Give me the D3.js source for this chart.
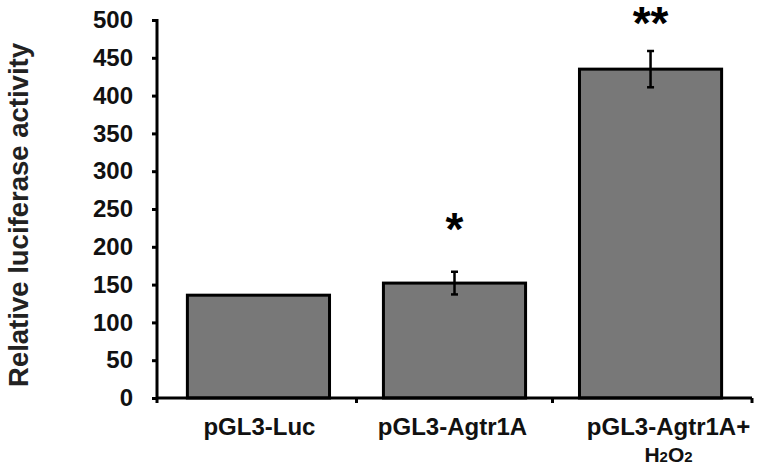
<!DOCTYPE html>
<html>
<head>
<meta charset="UTF-8">
<title>Relative luciferase activity</title>
<script src="https://cdn.jsdelivr.net/npm/d3@7"></script>
<style type="text/css">
	body { margin:0; background:white; }
	text { font-family: "Liberation Sans", Arial, sans-serif; }
</style>
</head>
<body>
<script type="text/javascript">

var categories = ['pGL3-Luc', 'pGL3-Agtr1A', 'pGL3-Agtr1A+'];
var values = [136, 152, 435];
var errors = [0, 15, 24];
var stars = ['', '*', '**'];
var starLevels = [0, 236, 508];
var yTicks = [0, 50, 100, 150, 200, 250, 300, 350, 400, 450, 500];

var large = 770, haut = 468;
var marg = {top: 20, right: 18, bottom: 70, left: 157};

var svg = d3.select('body').append('svg')
	.attr('width', large)
	.attr('height', haut);

var x = d3.scaleBand()
	.domain(categories)
	.range([marg.left, large - marg.right])
	.paddingInner(0.275)
	.paddingOuter(0.155);

var y = d3.scaleLinear()
	.domain([0, 500])
	.range([haut - marg.bottom, marg.top]);

// barres
svg.selectAll('.bar')
	.data(values).enter().append('rect')
	.attr('class', 'bar')
	.attr('x', function(d, i){ return x(categories[i]); })
	.attr('y', function(d){ return y(d); })
	.attr('width', x.bandwidth())
	.attr('height', function(d){ return y(0) - y(d); })
	.attr('fill', '#787878')
	.attr('stroke', 'black')
	.attr('stroke-width', 3);

// barres d'erreur
values.forEach(function(v, i){
	if (!errors[i]) return;
	var cx = x(categories[i]) + x.bandwidth() / 2;
	var g = svg.append('g').attr('stroke', 'black').attr('stroke-width', 2.5);
	g.append('line').attr('x1', cx).attr('x2', cx)
		.attr('y1', y(v - errors[i])).attr('y2', y(v + errors[i]));
	[v - errors[i], v + errors[i]].forEach(function(e){
		g.append('line').attr('x1', cx - 3.5).attr('x2', cx + 3.5)
			.attr('y1', y(e)).attr('y2', y(e));
	});
});

// étoiles
var starSize = 46;
svg.selectAll('.star')
	.data(stars).enter().append('text')
	.attr('x', function(d, i){ return x(categories[i]) + x.bandwidth() / 2; })
	.attr('y', function(d, i){ return y(starLevels[i]) + starSize * 0.55; })
	.attr('text-anchor', 'middle')
	.attr('font-size', starSize)
	.attr('font-weight', 'bold')
	.text(function(d){ return d; });

// axe y
var axeY = svg.append('g')
	.attr('transform', 'translate(' + marg.left + ',0)')
	.call(d3.axisLeft(y).tickValues(yTicks).tickSize(5).tickPadding(19));
axeY.select('.domain').attr('stroke-width', 3).attr('d', 'M0,' + (y(500) - 1) + 'V' + y(0));
axeY.selectAll('.tick line').attr('stroke-width', 3);
axeY.selectAll('.tick text')
	.attr('font-size', 24)
	.attr('font-weight', 'bold')
	.attr('font-family', '"Liberation Sans", Arial, sans-serif')
	.attr('fill', '#111');

// axe x
var axeX = svg.append('g')
	.attr('transform', 'translate(0,' + y(0) + ')');
axeX.append('line')
	.attr('x1', marg.left).attr('x2', large - marg.right)
	.attr('stroke', 'black').attr('stroke-width', 3);
var step = x.step();
[0, 1, 2, 3].forEach(function(k){
	var xs = k === 0 ? marg.left : x(categories[k - 1]) + x.bandwidth() + step * x.paddingInner() / 2;
	if (k === 3) xs = large - marg.right;
	axeX.append('line').attr('x1', xs).attr('x2', xs)
		.attr('y1', 0).attr('y2', 5)
		.attr('stroke', 'black').attr('stroke-width', 3);
});

var labDx = [1, -2, 18];
svg.selectAll('.xlab')
	.data(categories).enter().append('text')
	.attr('x', function(d, i){ return x(d) + x.bandwidth() / 2 + labDx[i]; })
	.attr('y', y(0) + 37)
	.attr('text-anchor', 'middle')
	.attr('font-size', 24)
	.attr('font-weight', 'bold')
	.attr('fill', '#111')
	.text(function(d){ return d; });

var h2o2 = svg.append('text')
	.attr('x', x(categories[2]) + x.bandwidth() / 2 + labDx[2])
	.attr('y', y(0) + 64)
	.attr('text-anchor', 'middle')
	.attr('font-size', 21)
	.attr('font-weight', 'bold')
	.attr('fill', '#111');
h2o2.append('tspan').text('H');
h2o2.append('tspan').attr('font-size', 15).text('2');
h2o2.append('tspan').text('O');
h2o2.append('tspan').attr('font-size', 15).text('2');

// titre y
svg.append('text')
	.attr('transform', 'translate(28,' + 215 + ') rotate(-90)')
	.attr('text-anchor', 'middle')
	.attr('font-size', 27.5)
	.attr('font-weight', 'bold')
	.attr('fill', '#222')
	.text('Relative luciferase activity');

</script>
</body>
</html>
